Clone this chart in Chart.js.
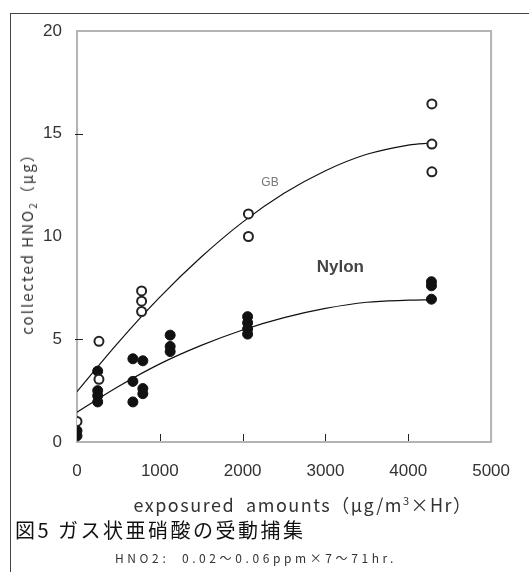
<!DOCTYPE html>
<html lang="ja">
<head>
<meta charset="UTF-8">
<title>図5 ガス状亜硝酸の受動捕集</title>
<script src="https://cdn.jsdelivr.net/npm/chart.js"></script>
<style>
  body { margin: 0; background: #fff; }
  #wrap { position: relative; width: 529px; height: 572px; overflow: hidden; background: #fff; }
  #frame { position: absolute; left: 10px; top: 13px; width: 600px; height: 600px;
           border-left: 1px solid #444; border-top: 1px solid #444; }
  #chart { position: absolute; left: 0; top: 0; }
  .txt { position: absolute; white-space: nowrap; color: #333; font-family: "Noto Sans CJK JP", "Liberation Sans", sans-serif; }
  #ytitle { left: 28px; top: 240px; font-size: 15px; letter-spacing: 2px; transform: translate(-50%, -50%) rotate(-90deg); }
  #xtitle { left: 303px; top: 504px; font-size: 18px; letter-spacing: 1.5px; transform: translate(-50%, -50%); }
  #caption { left: 15px; top: 529px; font-size: 20px; letter-spacing: 2.5px; color: #111; transform: translateY(-50%); }
  #note { left: 115px; top: 557px; font-size: 12px; letter-spacing: 3.6px; transform: translateY(-50%); }
</style>
</head>
<body>
<div id="wrap">
  <div id="frame"></div>
  <canvas id="chart" width="529" height="572"></canvas>
  <div class="txt" id="ytitle">collected HNO<sub style="font-size:10px">2</sub>（μg）</div>
  <div class="txt" id="xtitle">exposured&nbsp;&nbsp;amounts（μg/m<sup style="font-size:11px">3</sup>×Hr）</div>
  <div class="txt" id="caption">図5 ガス状亜硝酸の受動捕集</div>
  <div class="txt" id="note">HNO2:&nbsp;&nbsp;0.02～0.06ppm×7～71hr.</div>
</div>
<script>
const gbX = [0, 265, 265, 780, 780, 780, 2070, 2070, 4285, 4285, 4285];
const gbY = [1.0, 4.9, 3.05, 7.35, 6.85, 6.35, 11.1, 10.0, 16.45, 14.5, 13.15];

const nylonX = [0, 0, 250, 250, 250, 250, 675, 675, 675, 795, 795, 795, 1125, 1125, 1125, 2060, 2060, 2060, 2060, 4280, 4280, 4280];
const nylonY = [0.55, 0.3, 3.45, 2.5, 2.25, 1.95, 4.05, 2.95, 1.95, 3.95, 2.6, 2.35, 5.2, 4.65, 4.4, 6.1, 5.8, 5.5, 5.25, 7.8, 7.6, 6.95];

// 近似曲線
const gbCurveX = [0, 500, 1000, 1500, 2000, 2500, 3000, 3500, 4000, 4280];
const gbCurveY = [2.45, 4.85, 7.05, 9.0, 10.7, 12.1, 13.2, 14.0, 14.45, 14.55];
const nylonCurveX = [0, 500, 1000, 1500, 2000, 2500, 3000, 3500, 4000, 4280];
const nylonCurveY = [1.45, 2.7, 3.8, 4.7, 5.45, 6.05, 6.5, 6.8, 6.9, 6.92];

// 目盛
const xTickMarks = [1000, 2000, 3000, 4000];
const yTickMarks = [5, 15];

// 系列名のラベル
const labelTexts = ["GB", "Nylon"];
const labelX = [2330, 3180];
const labelY = [12.6, 8.5];

function toPoints(xs, ys) {
    return xs.map((x, i) => ({ x: x, y: ys[i] }));
}

// 枠線・内向きの目盛・系列ラベル
const framePlugin = {
    id: "frame",
    beforeDatasetsDraw(chart) {
        const ctx = chart.ctx;
        const a = chart.chartArea;
        const sx = chart.scales.x;
        const sy = chart.scales.y;
        ctx.save();
        ctx.strokeStyle = "#b4b4b4";
        ctx.lineWidth = 2;
        ctx.strokeRect(a.left, a.top, a.right - a.left, a.bottom - a.top);

        ctx.strokeStyle = "#222";
        ctx.lineWidth = 1;
        xTickMarks.forEach(v => {
            const px = Math.round(sx.getPixelForValue(v)) + 0.5;
            ctx.beginPath();
            ctx.moveTo(px, a.bottom - 1);
            ctx.lineTo(px, a.bottom - 8);
            ctx.stroke();
        });
        yTickMarks.forEach(v => {
            const py = Math.round(sy.getPixelForValue(v)) + 0.5;
            ctx.beginPath();
            ctx.moveTo(a.left - 2, py);
            ctx.lineTo(a.left + 6, py);
            ctx.stroke();
        });

        ctx.textAlign = "center";
        ctx.textBaseline = "middle";
        ctx.fillStyle = "#777";
        ctx.font = "12px 'Liberation Sans', sans-serif";
        ctx.fillText(labelTexts[0], sx.getPixelForValue(labelX[0]), sy.getPixelForValue(labelY[0]));
        ctx.fillStyle = "#444";
        ctx.font = "bold 17px 'Liberation Sans', sans-serif";
        ctx.fillText(labelTexts[1], sx.getPixelForValue(labelX[1]), sy.getPixelForValue(labelY[1]));
        ctx.restore();
    }
};

const tickFont = { family: "'Liberation Sans', sans-serif", size: 17 };

new Chart(document.getElementById("chart"), {
    type: "scatter",
    data: {
        datasets: [
            {
                label: "GB",
                data: toPoints(gbX, gbY),
                pointStyle: "circle",
                pointRadius: 4.5,
                pointBackgroundColor: "#fff",
                pointBorderColor: "#222",
                pointBorderWidth: 2
            },
            {
                label: "Nylon",
                data: toPoints(nylonX, nylonY),
                pointStyle: "circle",
                pointRadius: 5,
                pointBackgroundColor: "#111",
                pointBorderColor: "#111",
                pointBorderWidth: 1
            },
            {
                type: "line",
                label: "GB fit",
                data: toPoints(gbCurveX, gbCurveY),
                borderColor: "#111",
                borderWidth: 1.2,
                pointRadius: 0,
                tension: 0.35,
                fill: false
            },
            {
                type: "line",
                label: "Nylon fit",
                data: toPoints(nylonCurveX, nylonCurveY),
                borderColor: "#111",
                borderWidth: 1.2,
                pointRadius: 0,
                tension: 0.35,
                fill: false
            }
        ]
    },
    options: {
        responsive: false,
        animation: false,
        events: [],
        layout: { padding: { top: 31, right: 23, bottom: 0, left: 0 } },
        plugins: {
            legend: { display: false },
            tooltip: { enabled: false }
        },
        scales: {
            x: {
                type: "linear",
                min: 0,
                max: 5000,
                grid: { display: false, drawTicks: false },
                border: { display: false },
                ticks: {
                    stepSize: 1000,
                    padding: 19,
                    color: "#333",
                    font: tickFont,
                    callback: v => String(v)
                },
                afterFit(scale) { scale.height = 130; }
            },
            y: {
                min: 0,
                max: 20,
                grid: { display: false, drawTicks: false },
                border: { display: false },
                ticks: {
                    stepSize: 5,
                    padding: 15,
                    color: "#333",
                    font: tickFont,
                    callback: v => String(v)
                },
                afterFit(scale) { scale.width = 77; }
            }
        }
    },
    plugins: [framePlugin]
});
</script>
</body>
</html>
